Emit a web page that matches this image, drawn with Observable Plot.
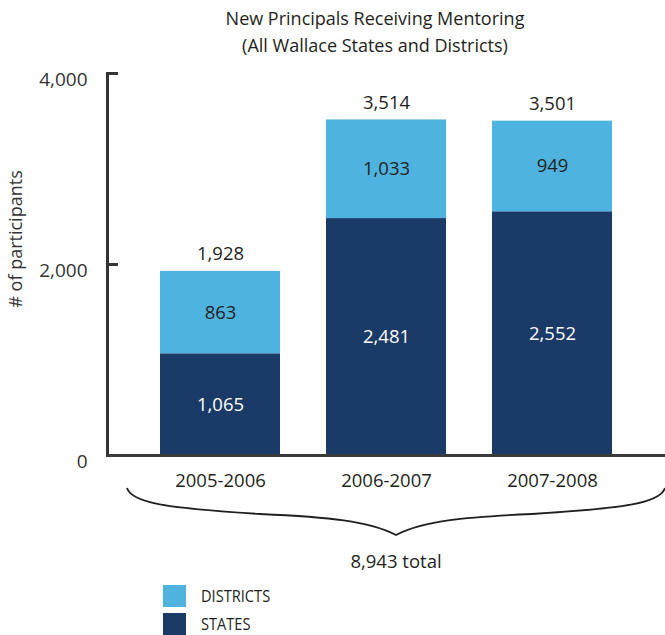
<!DOCTYPE html>
<html>
<head>
<meta charset="utf-8">
<script src="https://cdn.jsdelivr.net/npm/d3@7"></script>
<script src="https://cdn.jsdelivr.net/npm/@observablehq/plot@0.6"></script>
<style>
  html, body { margin: 0; padding: 0; background: #fff; }
  body { width: 665px; height: 635px; position: relative; overflow: hidden; font-family: "Open Sans", sans-serif; color: #231f20; }
  #title { position: absolute; top: 5px; left: 85px; width: 580px; text-align: center; font-size: 18px; line-height: 27px; }
  #chart { position: absolute; top: 60px; left: 0; }
  #legend { position: absolute; left: 163px; top: 585px; font-family: "Open Sans", sans-serif; font-size: 17px; color: #231f20; }
  .item { display: flex; align-items: center; height: 22px; margin-bottom: 6px; }
  .sw { width: 23px; height: 22px; margin-right: 15px; flex: none; }
  .lbl { display: inline-block; transform: scaleX(0.86); transform-origin: left center; line-height: 20px; }
</style>
</head>
<body>
<div id="title">New Principals Receiving Mentoring<br>(All Wallace States and Districts)</div>
<div id="chart"></div>
<div id="legend"></div>
<script>
const years = ["2005-2006", "2006-2007", "2007-2008"];
const states = [1065, 2481, 2552];
const districts = [863, 1033, 949];
const totals = [1928, 3514, 3501];
const yTicks = [0, 2000, 4000];
const seriesNames = ["DISTRICTS", "STATES"];
const seriesColors = ["#4fb3e0", "#1a3a68"];
const grandTotalLabel = "8,943 total";
const yLabel = "# of participants";

const fmt = d3.format(",");
const table = [
  ...years.map((year, i) => ({year, type: "STATES", value: states[i]})),
  ...years.map((year, i) => ({year, type: "DISTRICTS", value: districts[i]}))
];
const totalRows = years.map((year, i) => ({year, total: totals[i]}));

const plot = Plot.plot({
  width: 665,
  height: 520,
  marginLeft: 107,
  marginRight: 0,
  marginTop: 13,
  marginBottom: 125,
  style: {fontFamily: "'Open Sans', sans-serif", color: "#231f20", background: "transparent"},
  x: {domain: years, paddingInner: 0.278, paddingOuter: 0.31, axis: null},
  y: {domain: [0, 4000], axis: null},
  color: {domain: seriesNames, range: seriesColors},
  marks: [
    Plot.barY(table, {x: "year", y: "value", fill: "type"}),
    Plot.frame({anchor: "left", stroke: "#333", strokeWidth: 3}),
    Plot.frame({anchor: "bottom", stroke: "#3a3a3a", strokeWidth: 3}),
    Plot.axisY({ticks: [2000, 4000], tickSize: 11, dx: 11, text: null, label: null, stroke: "#333", strokeWidth: 3}),
    Plot.axisY({ticks: yTicks, tickSize: 0, tickPadding: 20, tickFormat: fmt, fontSize: 19, dy: 6, label: null, fill: "#333"}),
    Plot.axisX({tickSize: 0, tickPadding: 18, fontSize: 18.5, label: null, fill: "#231f20"}),
    Plot.text(table.filter(d => d.type === "STATES"), Plot.stackY({x: "year", y: "value", text: d => fmt(d.value), fill: "white", fontSize: 18.5})),
    Plot.text(table, Plot.stackY({x: "year", y: "value", text: d => d.type === "DISTRICTS" ? fmt(d.value) : "", fill: "#231f20", fontSize: 18.5})),
    Plot.text(totalRows, {x: "year", y: "total", text: d => fmt(d.total), dy: -17, fontSize: 18.5, fill: "#231f20"})
  ]
});

document.getElementById("chart").appendChild(plot);

// decorations: brace, total, y label
const xs = plot.scale("x"), ys = plot.scale("y");
const svg = d3.select(plot);
const L = xs.range[0] + 20, R = xs.range[1];
const C = (L + R) / 2;
const base = ys.apply(0);
const yEnd = base + 33, yArm = base + 59, yTip = base + 80;
const path = `M${L},${yEnd} C${L + 5},${yEnd + 15} ${L + 38},${yArm - 6} ${L + 133},${yArm}`
  + ` C${C - 67},${yArm + 3} ${C - 27},${yArm + 7} ${C},${yTip}`
  + ` C${C + 27},${yArm + 7} ${C + 67},${yArm + 3} ${R - 133},${yArm}`
  + ` C${R - 38},${yArm - 6} ${R - 5},${yEnd + 15} ${R},${yEnd}`;
svg.append("path").attr("d", path).attr("fill", "none").attr("stroke", "#231f20").attr("stroke-width", 1.8);
svg.append("text").attr("x", C).attr("y", base + 108).attr("text-anchor", "middle").attr("dominant-baseline", "middle")
  .attr("font-size", 18.5).attr("fill", "#231f20").text(grandTotalLabel);
svg.append("text").attr("transform", `translate(17,${(ys.apply(4000) + base) / 2 - 25}) rotate(-90)`)
  .attr("text-anchor", "middle").attr("dominant-baseline", "middle").attr("font-size", 18).attr("fill", "#333").text(yLabel);

// legend
const legend = d3.select("#legend");
seriesNames.forEach((name, i) => {
  const item = legend.append("div").attr("class", "item");
  item.append("div").attr("class", "sw").style("background", seriesColors[i]);
  item.append("span").attr("class", "lbl").text(name);
});
</script>
</body>
</html>
